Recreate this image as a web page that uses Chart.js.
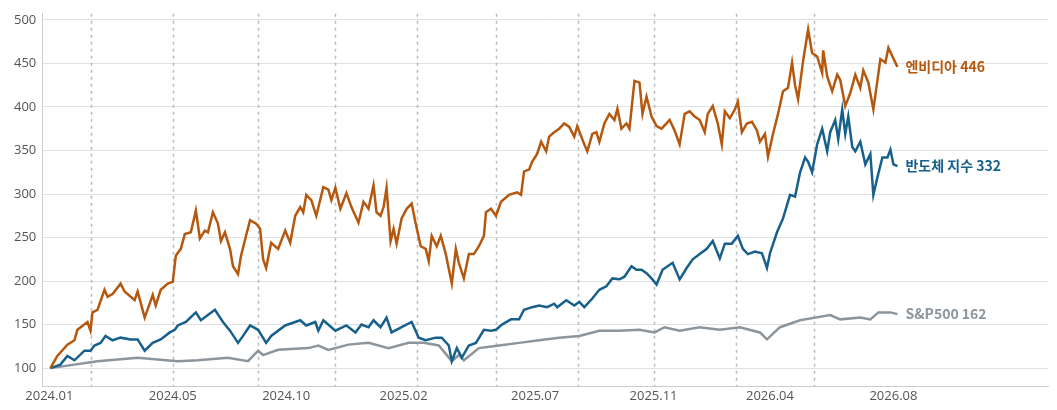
<!DOCTYPE html>
<html><head><meta charset="utf-8">
<script src="https://cdn.jsdelivr.net/npm/chart.js@4"></script>
<style>html,body{margin:0;padding:0;background:#fff}#w{width:1057px;height:410px}</style>
</head><body><div id="w"><canvas id="c"></canvas></div>
<script>
// x = horizontal position index along the time axis
const nvdaX=[53,60,70,77,80,90,93,95,100,107,110,115,123,127,137,140,147,152,155,158,163,170,175,178,183,187,193,198,202,207,210,215,220,223,227,232,235,240,243,248,252,
258,262,265,268,273,280,287,292,297,302,305,308,313,318,325,330,333,337,342,348,353,360,365,370,375,378,382,385,388,392,395,398,403,408,413,417,422,427,430,433,438,442,447,453,457,460,465,470,
475,480,485,487,492,497,502,510,518,522,525,530,533,538,542,547,550,555,560,565,570,575,578,585,588,593,597,600,605,610,615,618,622,627,630,635,640,643,647,652,657,662,670,675,680,
685,690,695,700,705,708,713,718,722,725,730,735,738,742,747,752,757,760,765,768,773,778,783,788,792,795,798,803,808,812,817,822,823,827,832,837,840,845,850,855,860,863,868,873,880,885,888,892,897];
const nvda=[100,114,127,132,144,153,143,164,167,190,182,185,197,188,178,188,158,174,184,172,190,197,199,229,237,254,256,281,249,258,256,279,266,246,256,237,217,208,229,252,270,
266,260,225,215,244,237,258,244,275,285,279,299,293,275,308,305,293,307,283,301,285,267,291,283,310,279,275,285,307,246,260,243,272,283,289,266,240,237,223,252,240,252,231,197,237,221,203,231,
231,240,252,279,283,275,291,299,302,299,326,328,337,346,360,349,366,371,375,381,377,366,378,357,349,369,371,360,381,392,385,398,375,381,375,430,428,392,412,389,378,375,385,373,357,
392,395,389,385,371,392,401,381,357,395,387,397,406,371,381,383,373,360,369,343,369,392,418,422,451,425,409,453,489,462,458,439,465,435,418,437,431,401,416,437,422,442,428,397,455,451,468,458,446];
const semiX=[53,63,70,77,87,93,97,103,108,115,123,133,140,147,155,163,172,177,180,188,198,203,217,225,232,240,245,252,260,268,273,287,302,308,317,320,325,337,348,357,363,370,375,382,388,393,403,413,420,427,437,443,450,453,458,463,470,477,485,492,497,503,512,520,525,533,540,548,555,558,567,575,580,585,593,600,607,613,620,625,632,637,642,647,652,657,663,668,673,680,687,693,700,707,713,720,725,732,738,743,748,755,762,767,770,777,783,790,795,800,805,808,812,817,822,827,830,835,838,842,845,848,852,855,860,865,870,873,877,882,887,890,893,897];
const semi=[100,104,114,109,120,120,126,129,137,132,135,133,133,120,129,133,141,144,149,153,164,155,167,153,143,129,137,149,144,129,137,149,155,149,153,143,155,143,149,141,150,147,155,147,158,141,147,153,135,132,135,135,126,108,123,112,126,129,144,143,144,150,156,156,167,170,172,170,174,170,178,172,176,170,180,190,194,203,202,205,217,213,213,209,203,196,213,217,221,202,215,225,231,237,246,226,243,243,252,237,231,234,232,215,232,256,272,299,297,325,342,337,325,357,375,349,371,385,363,397,369,389,354,349,360,334,346,299,319,342,342,351,334,332];
const spX=[53,100,140,180,200,230,250,260,265,280,310,320,330,350,370,390,410,425,440,453,460,465,480,500,520,540,560,580,600,620,640,655,665,680,700,720,740,760,767,780,800,815,830,840,860,870,878,890,897];
const sp=[100,108,112,108,109,112,108,120,115,121,123,126,121,127,129,123,129,129,126,108,115,109,123,126,129,132,135,137,143,143,144,141,147,143,147,144,147,141,133,147,155,158,161,156,158,156,164,164,162];
const tickPos=[52,175,288,405,536,654,770,893];
const tickLabels=['2024.01','2024.05','2024.10','2025.02','2025.07','2025.11','2026.04','2026.08'];
const eventPos=[94,175,260,337,418,497,579,654,736,814];
const seriesNames=['엔비디아','반도체 지수','S&P500'];
const colors=['#b4580f','#17608c','#8c949c'];

const pts=(xs,ys)=>xs.map((x,i)=>({x,y:ys[i]}));
const endLabels={id:'endLabels',afterDatasetsDraw(ch){
  const c=ch.ctx;c.save();c.font='bold 14px "Noto Sans CJK KR","Open Sans",sans-serif';c.textBaseline='middle';
  ch.data.datasets.forEach((d,i)=>{const p=d.data[d.data.length-1];
    c.fillStyle=colors[i];c.fillText(seriesNames[i]+' '+p.y,ch.scales.x.getPixelForValue(p.x)+8,ch.scales.y.getPixelForValue(p.y));});
  c.restore();}};
const events={id:'events',beforeDatasetsDraw(ch){
  const c=ch.ctx,a=ch.chartArea;c.save();c.strokeStyle='#b8bcc2';c.lineWidth=1.5;c.setLineDash([3,4]);
  eventPos.forEach(v=>{const x=Math.round(ch.scales.x.getPixelForValue(v))+0.5;c.beginPath();c.moveTo(x,a.top);c.lineTo(x,a.bottom);c.stroke();});
  c.restore();}};
new Chart(document.getElementById('c'),{
  type:'line',
  data:{datasets:[
    {data:pts(nvdaX,nvda),borderColor:colors[0],borderWidth:2.5},
    {data:pts(semiX,semi),borderColor:colors[1],borderWidth:2.5},
    {data:pts(spX,sp),borderColor:colors[2],borderWidth:2.5}]},
  options:{responsive:true,maintainAspectRatio:false,animation:false,
    layout:{padding:{left:8,right:9,top:8,bottom:4}},
    elements:{point:{radius:0},line:{tension:0}},
    plugins:{legend:{display:false},tooltip:{enabled:false}},
    scales:{
      x:{type:'linear',min:45,max:1047,
        afterBuildTicks(s){s.ticks=tickPos.map(v=>({value:v}));},
        ticks:{autoSkip:false,maxRotation:0,color:'#555',font:{size:13,family:'"Open Sans",sans-serif'},padding:2,
          callback:(v)=>tickLabels[tickPos.indexOf(v)]},
        grid:{display:false,drawTicks:false},border:{color:'#c9ccd1'}},
      y:{min:79,max:507,
        afterBuildTicks(s){s.ticks=[100,150,200,250,300,350,400,450,500].map(v=>({value:v}));},
        ticks:{color:'#555',font:{size:13,family:'"Open Sans",sans-serif'},padding:6},
        grid:{color:'#dfe1e5',drawTicks:false},border:{display:true,color:'#c9ccd1'}}
    }},
  plugins:[events,endLabels]
});
</script></body></html>
